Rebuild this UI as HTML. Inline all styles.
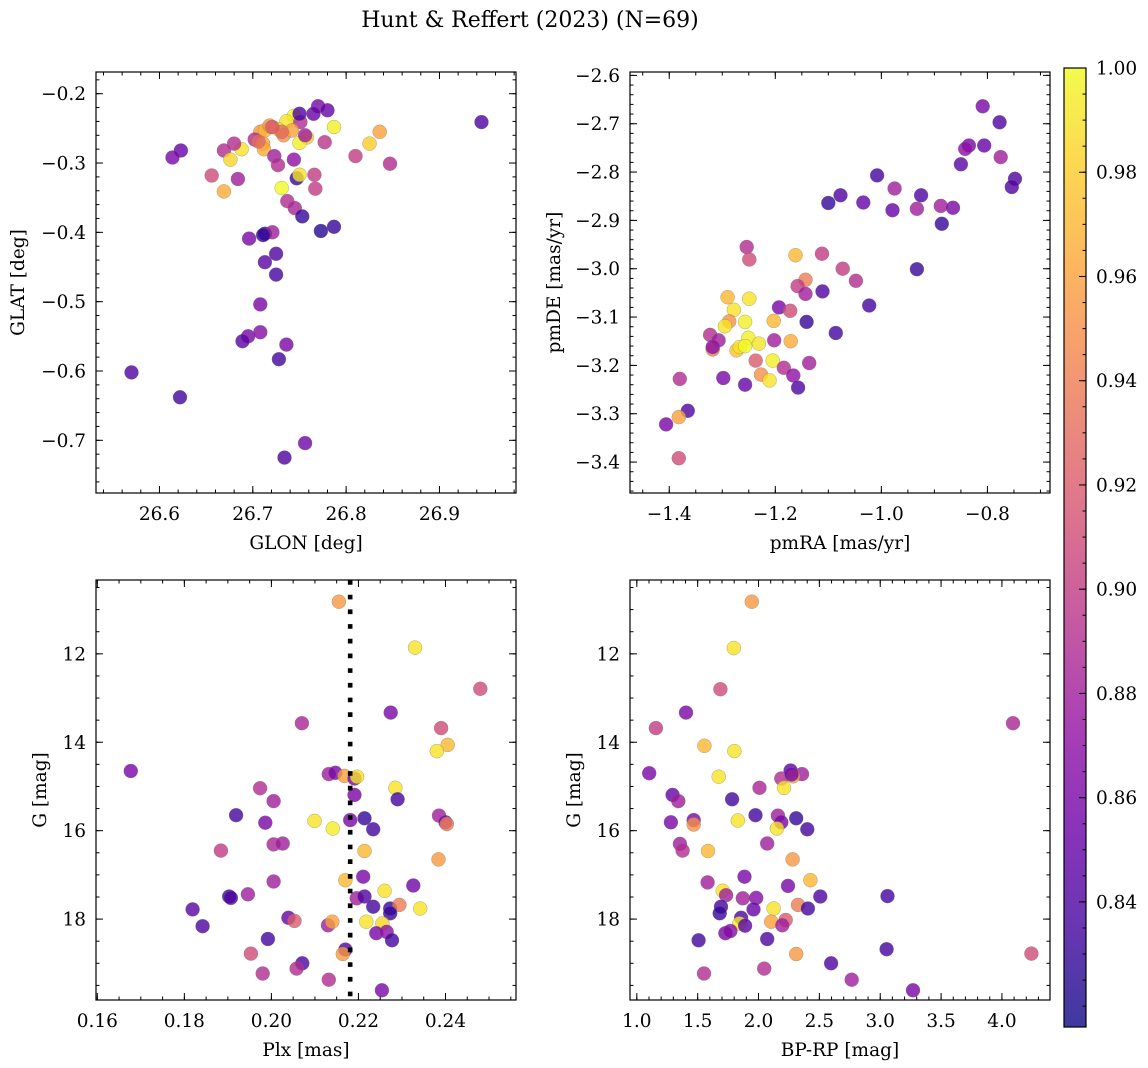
<!DOCTYPE html>
<html><head><meta charset="utf-8">
<style>
html,body{margin:0;padding:0;background:#fff;}
svg{display:block;font-family:"DejaVu Serif","Liberation Serif",serif;}
</style></head>
<body>
<svg id="fig" width="1148" height="1068" viewBox="0 0 1148 1068" xmlns="http://www.w3.org/2000/svg">
<defs>
<linearGradient id="plasmaGrad" x1="0" y1="1" x2="0" y2="0">
<stop offset="0" stop-color="#0d0887"/><stop offset="0.1" stop-color="#41049d"/><stop offset="0.2" stop-color="#6a00a8"/><stop offset="0.3" stop-color="#8f0da4"/><stop offset="0.4" stop-color="#b12a90"/><stop offset="0.5" stop-color="#cc4778"/><stop offset="0.6" stop-color="#e16462"/><stop offset="0.7" stop-color="#f2844b"/><stop offset="0.8" stop-color="#fca636"/><stop offset="0.9" stop-color="#fcce25"/><stop offset="1" stop-color="#f0f921"/>
</linearGradient>
</defs>
<text x="530" y="27" font-size="22" text-anchor="middle">Hunt &amp; Reffert (2023) (N=69)</text>
</svg>
<script>
// ---- data ----
const glon=[26.945,26.770,26.780,26.765,26.744,26.736,26.751,26.787,26.836,26.825,26.708,26.713,26.720,26.727,26.733,26.742,26.758,26.750,26.702,26.711,26.712,26.777,26.688,26.680,26.669,26.676,26.623,26.614,26.723,26.727,26.744,26.810,26.847,26.656,26.684,26.747,26.750,26.766,26.767,26.669,26.731,26.737,26.745,26.753,26.787,26.773,26.713,26.721,26.696,26.725,26.713,26.725,26.708,26.695,26.689,26.708,26.736,26.728,26.570,26.622,26.756,26.734,26.718,26.731,26.756,26.711,26.706,26.721,26.750];
const glat=[-0.241,-0.218,-0.224,-0.229,-0.232,-0.240,-0.241,-0.248,-0.255,-0.272,-0.255,-0.253,-0.248,-0.251,-0.260,-0.253,-0.263,-0.271,-0.266,-0.272,-0.280,-0.270,-0.280,-0.272,-0.282,-0.295,-0.282,-0.292,-0.290,-0.303,-0.295,-0.290,-0.301,-0.318,-0.323,-0.322,-0.317,-0.317,-0.337,-0.341,-0.336,-0.355,-0.365,-0.377,-0.392,-0.398,-0.402,-0.400,-0.409,-0.431,-0.443,-0.461,-0.504,-0.550,-0.557,-0.544,-0.562,-0.583,-0.602,-0.638,-0.704,-0.725,-0.246,-0.255,-0.260,-0.404,-0.269,-0.248,-0.229];
const probA=[0.84,0.86,0.85,0.85,1.0,0.99,0.89,0.995,0.96,0.98,0.955,0.97,0.94,0.99,0.95,0.96,0.98,0.995,0.89,0.96,0.965,0.895,0.99,0.89,0.89,0.985,0.85,0.86,0.88,0.89,0.87,0.9,0.89,0.91,0.88,0.83,0.99,0.9,0.9,0.965,1.0,0.89,0.885,0.83,0.83,0.825,0.822,0.88,0.86,0.84,0.845,0.835,0.86,0.86,0.845,0.865,0.86,0.835,0.84,0.835,0.855,0.84,0.955,0.93,0.88,0.83,0.93,0.92,0.84];

const pmra=[-0.809,-0.777,-0.835,-0.842,-0.806,-0.775,-0.850,-0.748,-0.754,-1.008,-0.975,-1.077,-1.100,-1.034,-0.925,-0.979,-0.933,-0.888,-0.865,-0.886,-1.254,-1.249,-1.162,-1.112,-1.073,-0.933,-1.048,-1.143,-1.158,-1.143,-1.111,-1.023,-1.290,-1.249,-1.278,-1.193,-1.172,-1.287,-1.295,-1.257,-1.203,-1.141,-1.086,-1.323,-1.307,-1.318,-1.318,-1.251,-1.231,-1.273,-1.267,-1.257,-1.202,-1.171,-1.237,-1.205,-1.136,-1.184,-1.227,-1.166,-1.211,-1.157,-1.298,-1.257,-1.380,-1.365,-1.382,-1.406,-1.382];
const pmde=[-2.664,-2.697,-2.745,-2.752,-2.745,-2.769,-2.784,-2.814,-2.831,-2.807,-2.834,-2.848,-2.864,-2.863,-2.848,-2.879,-2.876,-2.870,-2.874,-2.907,-2.955,-2.981,-2.972,-2.969,-3.000,-3.001,-3.025,-3.023,-3.036,-3.052,-3.047,-3.076,-3.059,-3.062,-3.085,-3.080,-3.087,-3.109,-3.119,-3.110,-3.108,-3.110,-3.133,-3.137,-3.148,-3.167,-3.162,-3.143,-3.155,-3.169,-3.162,-3.160,-3.148,-3.150,-3.190,-3.190,-3.195,-3.205,-3.219,-3.221,-3.231,-3.246,-3.226,-3.240,-3.228,-3.294,-3.307,-3.322,-3.392];
const probB=[0.86,0.84,0.86,0.87,0.85,0.88,0.845,0.84,0.84,0.835,0.88,0.84,0.83,0.85,0.84,0.85,0.88,0.88,0.86,0.83,0.89,0.91,0.97,0.9,0.9,0.83,0.89,0.94,0.9,0.88,0.84,0.835,0.97,0.99,0.99,0.86,0.91,0.95,0.99,0.995,0.97,0.83,0.835,0.89,0.88,0.94,0.87,0.995,0.99,0.975,0.99,1.0,0.88,0.965,0.92,0.995,0.88,0.89,0.95,0.87,0.99,0.84,0.86,0.85,0.89,0.84,0.96,0.86,0.91];

const plx=[0.2155,0.2330,0.2480,0.2274,0.2070,0.2390,0.2405,0.2380,0.1677,0.2132,0.2147,0.2168,0.2191,0.2197,0.2285,0.1974,0.2191,0.2290,0.2005,0.2385,0.2400,0.2403,0.1919,0.1986,0.2099,0.2141,0.2181,0.2214,0.2234,0.2005,0.2026,0.1884,0.2214,0.2384,0.2170,0.2211,0.2005,0.2326,0.2260,0.1903,0.1907,0.1946,0.2196,0.2214,0.2234,0.2273,0.2294,0.2342,0.2273,0.1819,0.1842,0.2039,0.2053,0.2130,0.2140,0.2218,0.2255,0.2241,0.2265,0.2277,0.1992,0.1953,0.2170,0.2164,0.2071,0.2058,0.1980,0.2132,0.2254];
const gmagC=[10.82,11.86,12.79,13.33,13.57,13.68,14.06,14.20,14.65,14.72,14.69,14.76,14.82,14.78,15.03,15.04,15.19,15.29,15.33,15.66,15.81,15.85,15.65,15.82,15.78,15.95,15.76,15.72,15.97,16.31,16.29,16.45,16.46,16.65,17.12,17.04,17.15,17.24,17.36,17.49,17.52,17.44,17.53,17.49,17.72,17.76,17.68,17.76,17.87,17.78,18.16,17.97,18.04,18.14,18.06,18.06,18.10,18.32,18.29,18.48,18.45,18.78,18.69,18.79,19.00,19.12,19.23,19.37,19.61];
const probC=[0.955,0.99,0.91,0.86,0.885,0.91,0.97,0.99,0.86,0.88,0.86,0.96,0.86,0.99,0.99,0.89,0.86,0.835,0.88,0.88,0.86,0.94,0.835,0.86,0.99,0.995,0.86,0.83,0.835,0.885,0.88,0.9,0.97,0.955,0.97,0.86,0.88,0.855,0.99,0.83,0.84,0.88,0.88,0.84,0.835,0.83,0.94,0.99,0.83,0.845,0.84,0.85,0.92,0.88,0.96,0.99,0.985,0.86,0.87,0.835,0.835,0.91,0.84,0.955,0.84,0.89,0.89,0.89,0.86];
const plxCut=[0.2181];

const bprp=[1.945,1.797,1.687,1.404,1.157,4.091,1.555,1.802,1.102,1.673,2.187,2.264,2.357,2.283,2.008,2.209,1.294,1.341,1.783,1.280,1.467,1.467,1.830,1.975,2.159,2.187,2.151,2.310,2.401,1.354,1.376,1.585,2.071,2.280,1.582,1.885,2.242,2.426,1.706,1.734,1.871,1.981,2.508,3.060,1.692,1.681,1.959,2.124,2.324,2.406,1.857,1.843,1.890,2.104,2.223,2.195,1.728,1.769,1.508,2.071,2.310,3.052,4.242,2.596,2.047,1.552,2.766,3.269,2.272];
const gmagD=[10.82,11.87,12.80,13.33,13.68,13.57,14.08,14.20,14.70,14.78,14.82,14.64,14.72,14.77,15.03,15.03,15.19,15.33,15.29,15.81,15.76,15.86,15.77,15.65,15.66,15.81,15.95,15.72,15.97,16.30,16.45,16.46,16.29,16.65,17.17,17.04,17.25,17.12,17.36,17.46,17.53,17.52,17.49,17.48,17.72,17.87,17.78,17.76,17.68,17.76,17.97,18.10,18.15,18.06,18.02,18.14,18.32,18.27,18.48,18.45,18.79,18.68,18.78,19.00,19.12,19.23,19.37,19.61,14.73];
const probD=[0.955,0.99,0.91,0.86,0.9,0.885,0.97,0.99,0.86,0.99,0.89,0.845,0.88,0.96,0.885,0.99,0.85,0.88,0.835,0.86,0.86,0.95,0.99,0.835,0.88,0.86,0.99,0.83,0.835,0.88,0.89,0.97,0.88,0.955,0.88,0.86,0.86,0.97,0.99,0.88,0.88,0.865,0.84,0.835,0.835,0.83,0.85,0.99,0.94,0.835,0.84,0.995,0.845,0.96,0.92,0.88,0.86,0.865,0.835,0.84,0.955,0.835,0.91,0.84,0.89,0.89,0.88,0.86,0.86];

// tick values / labels
const tlXTicks=[26.6,26.7,26.8,26.9]; const tlXLabels=["26.6","26.7","26.8","26.9"];
const tlYTicks=[-0.2,-0.3,-0.4,-0.5,-0.6,-0.7]; const tlYLabels=["−0.2","−0.3","−0.4","−0.5","−0.6","−0.7"];
const trXTicks=[-1.4,-1.2,-1.0,-0.8]; const trXLabels=["−1.4","−1.2","−1.0","−0.8"];
const trYTicks=[-2.6,-2.7,-2.8,-2.9,-3.0,-3.1,-3.2,-3.3,-3.4]; const trYLabels=["−2.6","−2.7","−2.8","−2.9","−3.0","−3.1","−3.2","−3.3","−3.4"];
const blXTicks=[0.16,0.18,0.20,0.22,0.24]; const blXLabels=["0.16","0.18","0.20","0.22","0.24"];
const gTicks=[12,14,16,18]; const gLabels=["12","14","16","18"];
const brXTicks=[1.0,1.5,2.0,2.5,3.0,3.5,4.0]; const brXLabels=["1.0","1.5","2.0","2.5","3.0","3.5","4.0"];
const cbTicks=[0.84,0.86,0.88,0.90,0.92,0.94,0.96,0.98,1.00]; const cbLabels=["0.84","0.86","0.88","0.90","0.92","0.94","0.96","0.98","1.00"];

const NS="http://www.w3.org/2000/svg";
const svg=document.getElementById('fig');
const FS=18.5;
function mk(tag,attrs,parent){const e=document.createElementNS(NS,tag);for(const k in attrs)e.setAttribute(k,attrs[k]);(parent||svg).appendChild(e);return e;}

const VMIN=0.816,VMAX=1.0;
const stops=[[13,8,135],[65,4,157],[106,0,168],[143,13,164],[177,42,144],[204,71,120],[225,100,98],[242,132,75],[252,166,54],[252,206,37],[240,249,33]];
function plasma(v){let t=(v-VMIN)/(VMAX-VMIN);t=Math.max(0,Math.min(1,t));const f=t*10;const i=Math.min(9,Math.floor(f));const r=f-i;const a=stops[i],b=stops[i+1];
return `rgb(${Math.round(a[0]+(b[0]-a[0])*r)},${Math.round(a[1]+(b[1]-a[1])*r)},${Math.round(a[2]+(b[2]-a[2])*r)})`;}

function panel(cfg){
  const {name,L,T,W,H,x0,x1,y0,y1,xs,ys,ps,xt,xl,yt,yl,xminor,yminor,xtitle,ytitle,ytitleX}=cfg;
  const g=mk('g',{});
  
  
  const sx=v=>L+(v-x0)/(x1-x0)*W;
  const sy=v=>T+(v-y0)/(y1-y0)*H;
  const clipId='clip-'+name;
  const cp=mk('clipPath',{id:clipId},g);mk('rect',{x:L,y:T,width:W,height:H},cp);
  const pts=mk('g',{'clip-path':`url(#${clipId})`},g);
  
  
  for(let i=0;i<xs.length;i++){
    const c=mk('circle',{cx:sx(xs[i]).toFixed(1),cy:sy(ys[i]).toFixed(1),r:7,fill:plasma(ps[i]),'fill-opacity':0.8,stroke:'#777','stroke-opacity':0.6,'stroke-width':0.5},pts);
    
    
  }
  if(cfg.after)cfg.after(g,sx,sy,clipId);
  const fr=mk('rect',{x:L,y:T,width:W,height:H,fill:'none',stroke:'#000','stroke-width':1.2},g);
  
  
  const tk=mk('g',{stroke:'#000','stroke-width':1},g);
  const xlo=Math.min(x0,x1),xhi=Math.max(x0,x1),ylo=Math.min(y0,y1),yhi=Math.max(y0,y1);
  function xtick(v,len){const X=sx(v);mk('line',{x1:X,y1:T+H,x2:X,y2:T+H-len},tk);mk('line',{x1:X,y1:T,x2:X,y2:T+len},tk);}
  function ytick(v,len){const Y=sy(v);mk('line',{x1:L,y1:Y,x2:L+len,y2:Y},tk);mk('line',{x1:L+W,y1:Y,x2:L+W-len,y2:Y},tk);}
  for(let v=Math.ceil(xlo/xminor-1e-6)*xminor;v<=xhi+1e-9;v+=xminor)xtick(v,3.5);
  for(let v=Math.ceil(ylo/yminor-1e-6)*yminor;v<=yhi+1e-9;v+=yminor)ytick(v,3.5);
  xt.forEach((v,i)=>{if(v>=xlo-1e-9&&v<=xhi+1e-9){xtick(v,7);
    const t=mk('text',{x:sx(v),y:T+H+27,'font-size':FS,'text-anchor':'middle'},g);t.textContent=xl[i];
    
    }});
  yt.forEach((v,i)=>{if(v>=ylo-1e-9&&v<=yhi+1e-9){ytick(v,7);
    const t=mk('text',{x:L-10,y:sy(v)+6.5,'font-size':FS,'text-anchor':'end'},g);t.textContent=yl[i];
    
    }});
  const xtt=mk('text',{x:L+W/2,y:T+H+56,'font-size':FS,'text-anchor':'middle'},g);xtt.textContent=xtitle;
  
  
  const ytt=mk('text',{x:0,y:0,'font-size':FS,'text-anchor':'middle',transform:`translate(${ytitleX},${T+H/2}) rotate(-90)`},g);ytt.textContent=ytitle;
  
  
}

panel({name:'glon-glat',L:96,T:72,W:420,H:421,x0:26.532,x1:26.982,y0:-0.1687,y1:-0.776,xs:glon,ys:glat,ps:probA,xt:tlXTicks,xl:tlXLabels,yt:tlYTicks,yl:tlYLabels,xminor:0.02,yminor:0.02,xtitle:'GLON [deg]',ytitle:'GLAT [deg]',ytitleX:24});
panel({name:'proper-motion',L:630,T:72,W:420,H:421,x0:-1.474,x1:-0.682,y0:-2.593,y1:-3.464,xs:pmra,ys:pmde,ps:probB,xt:trXTicks,xl:trXLabels,yt:trYTicks,yl:trYLabels,xminor:0.05,yminor:0.02,xtitle:'pmRA [mas/yr]',ytitle:'pmDE [mas/yr]',ytitleX:560});
panel({name:'plx-g',L:96,T:580,W:420,H:420,x0:0.1597,x1:0.2562,y0:10.33,y1:19.83,xs:plx,ys:gmagC,ps:probC,xt:blXTicks,xl:blXLabels,yt:gTicks,yl:gLabels,xminor:0.005,yminor:0.5,xtitle:'Plx [mas]',ytitle:'G [mag]',ytitleX:46,
  after:(g,sx,sy)=>{const X=sx(plxCut[0]);const ln=mk('line',{x1:X,y1:580,x2:X,y2:1000,stroke:'#000','stroke-width':4.6,'stroke-dasharray':'4.7 10'},g);
    
    }});
panel({name:'cmd',L:630,T:580,W:420,H:420,x0:0.944,x1:4.395,y0:10.33,y1:19.83,xs:bprp,ys:gmagD,ps:probD,xt:brXTicks,xl:brXLabels,yt:gTicks,yl:gLabels,xminor:0.1,yminor:0.5,xtitle:'BP-RP [mag]',ytitle:'G [mag]',ytitleX:580});

// colorbar
const CB={L:1064,T:68,W:22,H:959};
const cbg=mk('g',{});


mk('rect',{x:CB.L,y:CB.T,width:CB.W,height:CB.H,fill:'url(#plasmaGrad)','fill-opacity':0.8},cbg);
mk('rect',{x:CB.L,y:CB.T,width:CB.W,height:CB.H,fill:'none',stroke:'#000','stroke-width':1.2},cbg);
const cy=v=>CB.T+CB.H-(v-VMIN)/(VMAX-VMIN)*CB.H;
for(let v=Math.ceil(VMIN/0.005)*0.005;v<=VMAX+1e-9;v+=0.005){mk('line',{x1:CB.L+CB.W,y1:cy(v),x2:CB.L+CB.W-3.5,y2:cy(v),stroke:'#000'},cbg);}
cbTicks.forEach((v,i)=>{mk('line',{x1:CB.L+CB.W,y1:cy(v),x2:CB.L+CB.W-7,y2:cy(v),stroke:'#000'},cbg);
  const t=mk('text',{x:CB.L+CB.W+10,y:cy(v)+6.5,'font-size':FS},cbg);t.textContent=cbLabels[i];
  
  });
</script>
</body></html>
